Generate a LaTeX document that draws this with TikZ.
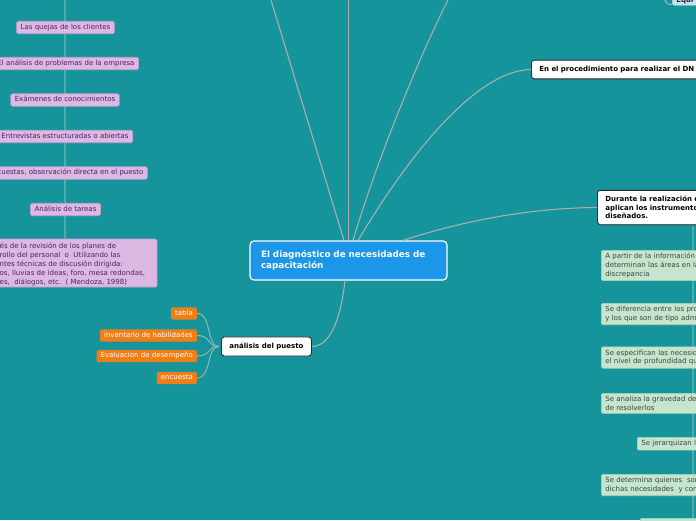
\documentclass[tikz,border=0pt]{standalone}
\usepackage{fontspec}
\setmainfont{DejaVu Sans}
\definecolor{bg}{HTML}{15949B}
\definecolor{cblue}{HTML}{1B96E8}
\definecolor{pfill}{HTML}{DCB8E3}
\definecolor{pline}{HTML}{C59FCF}
\definecolor{ptext}{HTML}{4A2263}
\definecolor{ofill}{HTML}{F07E17}
\definecolor{gfill}{HTML}{C7E5CE}
\definecolor{gline}{HTML}{A8D0B3}
\definecolor{gtext}{HTML}{34493C}
\definecolor{wline}{HTML}{262626}
\definecolor{cgray}{HTML}{ADADAD}
\definecolor{ctwo}{HTML}{8DB6B7}
\definecolor{vcol}{HTML}{52A9AE}
\definecolor{efill}{HTML}{C6E2F6}
\newcommand{\fsz}[2]{\fontsize{#1}{#2}\selectfont}
\begin{document}
\begin{tikzpicture}[x=1pt,y=-1pt,
  base/.style={font=\fsz{7}{8.4}, inner xsep=4, inner ysep=2.8, text height=5.3, text depth=1.5, rounded corners=1.5},
  purp/.style={base, fill=pfill, draw=pline, line width=0.7, text=ptext},
  orng/.style={base, fill=ofill, text=white, anchor=east},
  grn/.style={font=\fsz{7}{8.6}, fill=gfill, draw=gline, line width=0.7, text=gtext, rounded corners=1.5, inner xsep=4, inner ysep=3, align=left, anchor=north west, text width=160},
  whitebox/.style={fill=white, draw=wline, line width=0.8, rounded corners=3, font=\bfseries\fsz{7}{8.7}, text=black, inner xsep=8, anchor=west, align=left},
  conn/.style={draw=cgray, line width=1.1},
  conntwo/.style={draw=ctwo, line width=1},
  vline/.style={draw=vcol, line width=1.1}]
\useasboundingbox (0,0) rectangle (696,520);
\clip (0,0) rectangle (696,520);
\fill[bg] (0,0) rectangle (696,520);

% free ends
\coordinate (ltop) at (65,0);
\coordinate (t1) at (271,0);
\coordinate (t2) at (348.5,0);
\coordinate (t3) at (448,0);
\coordinate (rtop) at (693,226);
\coordinate (rbot) at (693,520);
\coordinate (eqc) at (664,-6);

% left column (purple)
\node[purp, minimum width=184, minimum height=48] (p7) at (65,263) {};
\draw[vline] (ltop) -- (p7.north);
\node[font=\fsz{7}{9}, text=ptext, anchor=west, align=left, inner sep=0] (p7t) at (-0.5,264.5)
 {és de la revisión de los planes de\\rollo del personal\ \ o\ \ Utilizando las\\ntes técnicas de discusión dirigida:\\os, lluvias de ideas, foro, mesa redondas,\\es,\ \ diálogos, etc.\ \ ( Mendoza, 1998)};
\node[purp] (p1) at (65.5,27.5) {Las quejas de los clientes};
\node[purp] (p2) at (66,63.5) {El análisis de problemas de la empresa};
\node[purp] (p3) at (65,100) {Exámenes de conocimientos};
\node[purp] (p4) at (65,136.5) {Entrevistas estructuradas o abiertas};
\node[purp] (p5) at (66,173) {Encuestas, observación directa en el puesto};
\node[purp] (p6) at (65.5,209.5) {Análisis de tareas};

% central node
\node[fill=cblue, draw=white, line width=1.2, rounded corners=4, text=white,
      font=\bfseries\fsz{8.8}{11}, text width=175, inner xsep=11, inner ysep=0,
      minimum height=39, align=left] (c) at (348.5,260.5)
 {El diagnóstico de necesidades de\\capacitación};

% right-side nodes
\node[whitebox, inner ysep=6, text width=220] (e1) at (531,69.5) {En el procedimiento para realizar el DN};
\node[whitebox, inner ysep=5.6, text width=160] (d1) at (597,207.5) {Durante la realización d\\aplican los instrumento\\diseñados.};

\draw[vline] (rtop) -- (rbot);

\node[grn] (g1) at (601,250) {A partir de la información\\determinan las áreas en la\\discrepancia};
\node[grn] (g2) at (601,303) {Se diferencia entre los pro\\y los que son de tipo adm};
\node[grn] (g3) at (601,346.5) {Se especifican las necesid\\el nivel de profundidad qu};
\node[grn] (g4) at (601,393) {Se analiza la gravedad de\\de resolverlos};
\node[grn] (g5) at (637,437) {Se jerarquizan l};
\node[grn] (g6) at (601,474) {Se determina quienes\ \ son\\dichas necesidades\ \ y con};
\node[grn, minimum height=20] (g7) at (640,518) {};

% top-right partial node
\node[fill=efill, draw=gline, line width=0.6, rounded corners=1.5, font=\bfseries\fsz{7}{8.4}, text=black!85,
      anchor=south west, inner xsep=4, inner ysep=1.5] (eq) at (672,5.5) {Equi};
\draw[conn] (eqc) .. controls (664,2) and (667,5) .. ([yshift=1]eq.south west);

% analysis branch
\node[whitebox, inner ysep=6] (a) at (221,346.5) {análisis del puesto};
\node[orng] (o1) at (197,313.5) {tabla};
\node[orng] (o2) at (197,335.5) {inventario de habilidades};
\node[orng] (o3) at (197,356) {Evaluacion de desempeño};
\node[orng] (o4) at (197,378) {encuesta};

% connectors from centre
\draw[conn] ([xshift=-4.5]c.north) -- (t1);
\draw[conn] (c.north) -- (t2);
\draw[conn] ([xshift=4.5]c.north) .. controls (380,150) and (425,45) .. (t3);
\draw[conn] ([xshift=9.5]c.north) .. controls (415,145) and (480,70) .. (e1.west);
\draw[conn] ([xshift=54.5]c.north) .. controls (450,225) and (520,208) .. (d1.west);
\draw[conn] ([xshift=-3.5]c.south) .. controls (340,325) and (328,346.5) .. (a.east);

% connectors to orange nodes
\foreach \o in {o1,o2,o3,o4}
  \draw[conntwo] ([xshift=-2]a.west) .. controls (206,346.5) and (212,0 |- \o.east) .. (\o.east);
\end{tikzpicture}
\end{document}
